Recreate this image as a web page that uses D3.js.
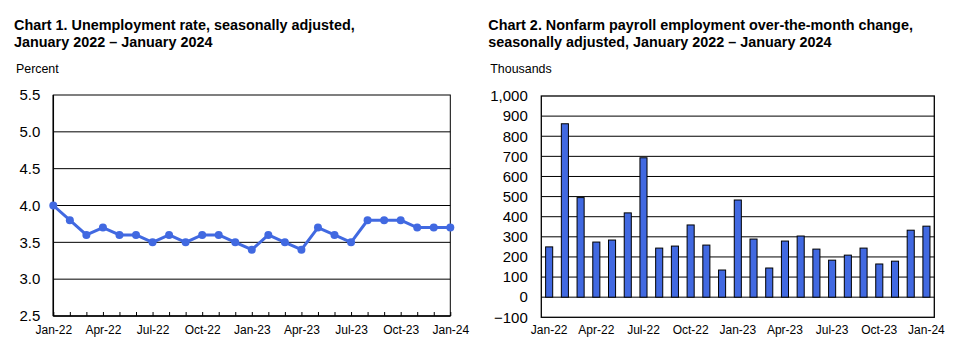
<!DOCTYPE html>
<html><head><meta charset="utf-8">
<script src="https://cdn.jsdelivr.net/npm/d3@7"></script>
<style>
body{margin:0;background:#fff;}
svg{display:block;font-family:"Liberation Sans",Arial,sans-serif;}
</style></head>
<body>
<svg id="c" width="953" height="355"></svg>
<script>
const months = ["Jan-22","Feb-22","Mar-22","Apr-22","May-22","Jun-22","Jul-22","Aug-22","Sep-22","Oct-22","Nov-22","Dec-22",
"Jan-23","Feb-23","Mar-23","Apr-23","May-23","Jun-23","Jul-23","Aug-23","Sep-23","Oct-23","Nov-23","Dec-23","Jan-24"];
const unemploymentRate = [4.0,3.8,3.6,3.7,3.6,3.6,3.5,3.6,3.5,3.6,3.6,3.5,3.4,3.6,3.5,3.4,3.7,3.6,3.5,3.8,3.8,3.8,3.7,3.7,3.7];
const payrollChange = [250,862,495,274,284,419,693,244,254,359,259,135,483,289,145,279,304,239,184,209,244,165,179,333,353];
const xTickLabels = ["Jan-22","Apr-22","Jul-22","Oct-22","Jan-23","Apr-23","Jul-23","Oct-23","Jan-24"];
const rateTicks = [2.5,3.0,3.5,4.0,4.5,5.0,5.5];
const payrollTicks = [-100,0,100,200,300,400,500,600,700,800,900,1000];
const title1 = ["Chart 1. Unemployment rate, seasonally adjusted,","January 2022 \u2013 January 2024"];
const title2 = ["Chart 2. Nonfarm payroll employment over-the-month change,","seasonally adjusted, January 2022 \u2013 January 2024"];

const svg = d3.select("#c");
const blue = "#4169E1";

function titles(x, lines, unit){
  const t = svg.append("text").attr("x",x).attr("y",30).attr("font-size",14.4).attr("font-weight","bold").attr("fill","#000");
  lines.forEach((l,i)=>t.append("tspan").attr("x",x).attr("y",30+i*17).text(l));
  svg.append("text").attr("x",x+2).attr("y",73).attr("font-size",12.4).attr("fill","#000").text(unit);
}

// Chart 1
titles(14, title1, "Percent");
{
  const L=53.3,R=450.3,T=95,B=316;
  const x = d3.scalePoint().domain(months).range([L,R]);
  const y = d3.scaleLinear().domain([2.5,5.5]).range([B,T]);
  const g = svg.append("g");
  g.selectAll(".grid").data(rateTicks.filter(d=>d>2.5&&d<5.5)).join("line")
    .attr("x1",L).attr("x2",R).attr("y1",d=>y(d)).attr("y2",d=>y(d)).attr("stroke","#000").attr("stroke-width",1);
  g.append("rect").attr("x",L).attr("y",T).attr("width",R-L).attr("height",B-T).attr("fill","none").attr("stroke","#000").attr("stroke-width",1);
  g.append("line").attr("x1",L).attr("x2",L).attr("y1",T).attr("y2",B).attr("stroke","#000").attr("stroke-width",1.5);
  g.append("line").attr("x1",L).attr("x2",R).attr("y1",B).attr("y2",B).attr("stroke","#000").attr("stroke-width",1.5);
  const ya = d3.axisLeft(y).tickValues(rateTicks).tickFormat(d3.format(".1f")).tickSize(0).tickPadding(13);
  const yg = g.append("g").attr("transform",`translate(${L},0)`).call(ya);
  yg.select(".domain").remove();
  yg.selectAll("text").attr("font-size",15).attr("font-family","Liberation Sans, Arial, sans-serif").attr("fill","#000");
  const xa = d3.axisTop(x).tickSize(4).tickFormat("");
  const xg = g.append("g").attr("transform",`translate(0,${B})`).call(xa);
  xg.select(".domain").remove();
  xg.selectAll("line").attr("stroke","#000");
  const xl = d3.axisBottom(x).tickValues(xTickLabels).tickSize(0).tickPadding(9);
  const xlg = g.append("g").attr("transform",`translate(0,${B})`).call(xl);
  xlg.select(".domain").remove();
  xlg.selectAll("text").attr("font-size",12).attr("font-family","Liberation Sans, Arial, sans-serif").attr("fill","#000");
  const line = d3.line().x((d,i)=>x(months[i])).y(d=>y(d));
  g.append("path").datum(unemploymentRate).attr("d",line).attr("fill","none").attr("stroke",blue).attr("stroke-width",3).attr("stroke-linejoin","round");
  g.selectAll(".pt").data(unemploymentRate).join("circle")
    .attr("cx",(d,i)=>x(months[i])).attr("cy",d=>y(d)).attr("r",4).attr("fill",blue);
}

// Chart 2
titles(488.3, title2, "Thousands");
{
  const L=541.3,R=934.3,T=96,B=317.3;
  const x = d3.scaleBand().domain(months).range([L,R]).paddingInner(0.55).paddingOuter(0.275);
  const y = d3.scaleLinear().domain([-100,1000]).range([B,T]);
  const g = svg.append("g");
  g.selectAll(".grid").data(payrollTicks.filter(d=>d>-100&&d<1000)).join("line")
    .attr("x1",L).attr("x2",R).attr("y1",d=>y(d)).attr("y2",d=>y(d)).attr("stroke","#000").attr("stroke-width",1);
  g.selectAll(".bar").data(payrollChange).join("rect")
    .attr("x",(d,i)=>x(months[i])).attr("width",x.bandwidth())
    .attr("y",d=>y(Math.max(0,d))).attr("height",d=>Math.abs(y(d)-y(0)))
    .attr("fill",blue).attr("stroke","#000").attr("stroke-width",1);
  g.append("rect").attr("x",L).attr("y",T).attr("width",R-L).attr("height",B-T).attr("fill","none").attr("stroke","#000").attr("stroke-width",1.3);
  const ya = d3.axisLeft(y).tickValues(payrollTicks).tickFormat(d3.format(",")).tickSize(0).tickPadding(13.5);
  const yg = g.append("g").attr("transform",`translate(${L},0)`).call(ya);
  yg.select(".domain").remove();
  yg.selectAll("text").attr("font-size",15).attr("font-family","Liberation Sans, Arial, sans-serif").attr("fill","#000");
  const xl = d3.axisBottom(x).tickValues(xTickLabels).tickSize(0).tickPadding(8);
  const xlg = g.append("g").attr("transform",`translate(0,${B})`).call(xl);
  xlg.select(".domain").remove();
  xlg.selectAll("text").attr("font-size",12).attr("font-family","Liberation Sans, Arial, sans-serif").attr("fill","#000");
}
</script>
</body></html>
